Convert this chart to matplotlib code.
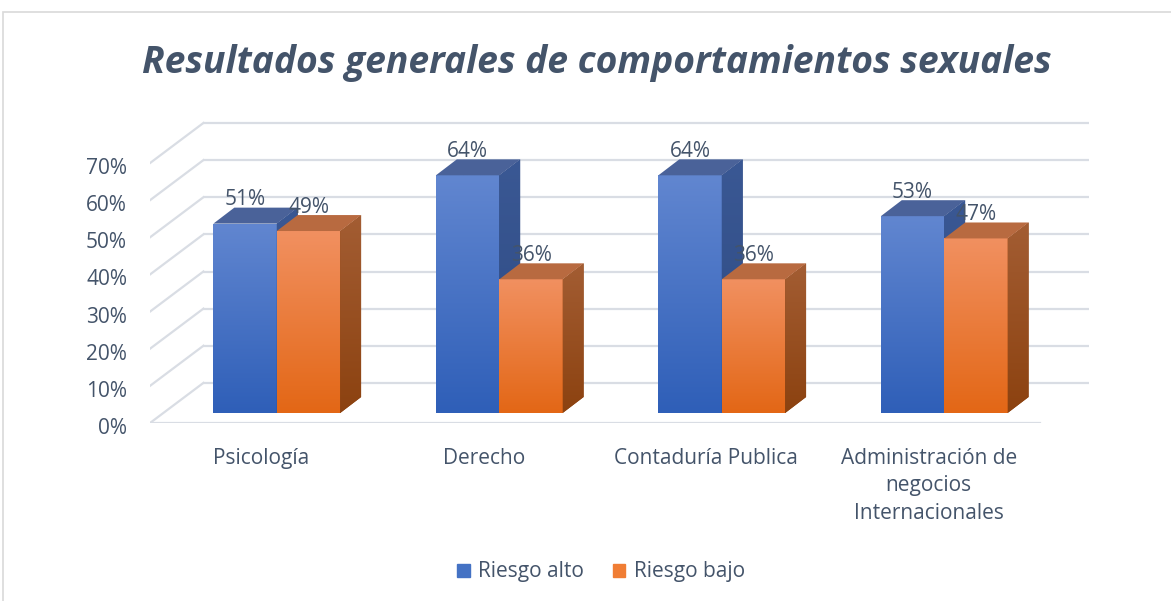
import numpy as np
import matplotlib
matplotlib.use("Agg")
import matplotlib.pyplot as plt
import matplotlib.transforms as mtransforms
from matplotlib.patches import Polygon, Rectangle
from matplotlib.colors import LinearSegmentedColormap

plt.rcParams["font.family"] = ["Open Sans", "DejaVu Sans"]

# data
categories = ["Psicología", "Derecho", "Contaduría Publica",
              "Administración de\nnegocios\nInternacionales"]
series_names = ["Riesgo alto", "Riesgo bajo"]
riesgo_alto = [51, 64, 64, 53]
riesgo_bajo = [49, 36, 36, 47]
yticks = [0, 10, 20, 30, 40, 50, 60, 70]

TXT = "#44546a"
GRID = "#d9dde4"

# face colours: front top/bottom, side top/bottom, top, legend swatch
styles = [
    dict(front=("#6186d0", "#2f5fb8"), side=("#3a5894", "#2e4a82"), top="#4a6299",
         swatch="#4472c4"),
    dict(front=("#f19060", "#e36716"), side=("#a35d33", "#8c4210"), top="#b86a40",
         swatch="#f07d34"),
]

# pseudo-3D geometry (data units)
bar_w = 0.285
wall_dx, wall_dy = 0.24, 10.8     # back wall offset
shift_x, shift_y = 0.07, 2.7      # bars sit slightly behind the front edge
depth_dx, depth_dy = 0.094, 4.3   # bar depth

fig = plt.figure(figsize=(11.71, 6.01), dpi=100)
W, H = 1171, 601
ax = fig.add_axes([150 / W, (H - 423) / H, (1092 - 150) / W, (423 - 120) / H])
ax.set_xlim(-0.5, 3.734)
ax.set_ylim(0, 81.6)
for s in ax.spines.values():
    s.set_visible(False)

# chart border
fig.patches.append(Rectangle((3 / W, -0.1), 1.2, (H - 12) / H + 0.1,
                             transform=fig.transFigure, fill=False,
                             edgecolor="#d9d9d9", lw=1.2))

# back wall + side wall grid
x_back_end = 3.5 + wall_dx - 0.02
for v in yticks:
    ax.plot([-0.5 + wall_dx, x_back_end], [v + wall_dy, v + wall_dy],
            color=GRID, lw=1.6, zorder=1, solid_capstyle="butt")
    ax.plot([-0.5, -0.5 + wall_dx], [v, v + wall_dy], color=GRID, lw=1.6, zorder=1)
ax.plot([-0.5, 3.5], [0, 0], color=GRID, lw=1.6, zorder=1)


def grad(patch, c_top, c_bot, extent, z):
    cmap = LinearSegmentedColormap.from_list("g", [c_bot, c_top])
    im = ax.imshow(np.linspace(0, 1, 100).reshape(-1, 1), cmap=cmap,
                   extent=extent, origin="lower", aspect="auto", zorder=z)
    im.set_clip_path(patch)


x = np.arange(len(categories))
z = 2
for i in range(len(categories)):
    for k, vals in enumerate([riesgo_alto, riesgo_bajo]):
        st = styles[k]
        v = vals[i]
        x0 = x[i] + shift_x + (k - 1) * bar_w
        x1 = x0 + bar_w
        y0, y1 = shift_y, shift_y + v
        b = ax.bar(x0, v, width=bar_w, bottom=y0, align="edge",
                   color=st["front"][1], lw=0, zorder=z)[0]
        grad(b, st["front"][0], st["front"][1], [x0, x1, y0, y1], z + 0.1)
        side = Polygon([(x1, y0), (x1 + depth_dx, y0 + depth_dy),
                        (x1 + depth_dx, y1 + depth_dy), (x1, y1)],
                       closed=True, color=st["side"][1], lw=0, zorder=z + 0.2)
        ax.add_patch(side)
        grad(side, st["side"][0], st["side"][1],
             [x1, x1 + depth_dx, y0, y1 + depth_dy], z + 0.3)
        top = Polygon([(x0, y1), (x1, y1), (x1 + depth_dx, y1 + depth_dy),
                       (x0 + depth_dx, y1 + depth_dy)],
                      closed=True, color=st["top"], lw=0, zorder=z + 0.4)
        ax.add_patch(top)
        ax.text((x0 + x1) / 2, y1 + depth_dy + 0.6, f"{v}%", ha="center",
                va="baseline", fontsize=15, color=TXT, zorder=20)
        z += 1

# axes labels
ax.set_yticks(yticks)
ax.set_yticklabels([f"{v}%" for v in yticks])
ax.set_xticks(x)
ax.set_xticklabels(categories, linespacing=1.4)
ax.tick_params(axis="y", length=0, pad=16.5, labelsize=15, labelcolor=TXT)
ax.tick_params(axis="x", length=0, pad=18, labelsize=15, labelcolor=TXT)
down = mtransforms.ScaledTranslation(0, -3 / 100, fig.dpi_scale_trans)
for lab in ax.get_yticklabels():
    lab.set_transform(lab.get_transform() + down)

fig.text(597 / W, 1 - 63 / H, "Resultados generales de comportamientos sexuales",
         ha="center", va="center", fontsize=26.8, fontweight="bold",
         fontstyle="italic", color=TXT)

# legend
handles = [Rectangle((0, 0), 1, 1, color=styles[k]["swatch"]) for k in range(2)]
fig.legend(handles, series_names, loc="center", bbox_to_anchor=(601 / W, 1 - 572 / H),
           ncol=2, frameon=False, fontsize=15, labelcolor=TXT,
           handlelength=0.6, handleheight=0.6, handletextpad=0.4, columnspacing=1.4)

fig.savefig("out.png", dpi=100)
